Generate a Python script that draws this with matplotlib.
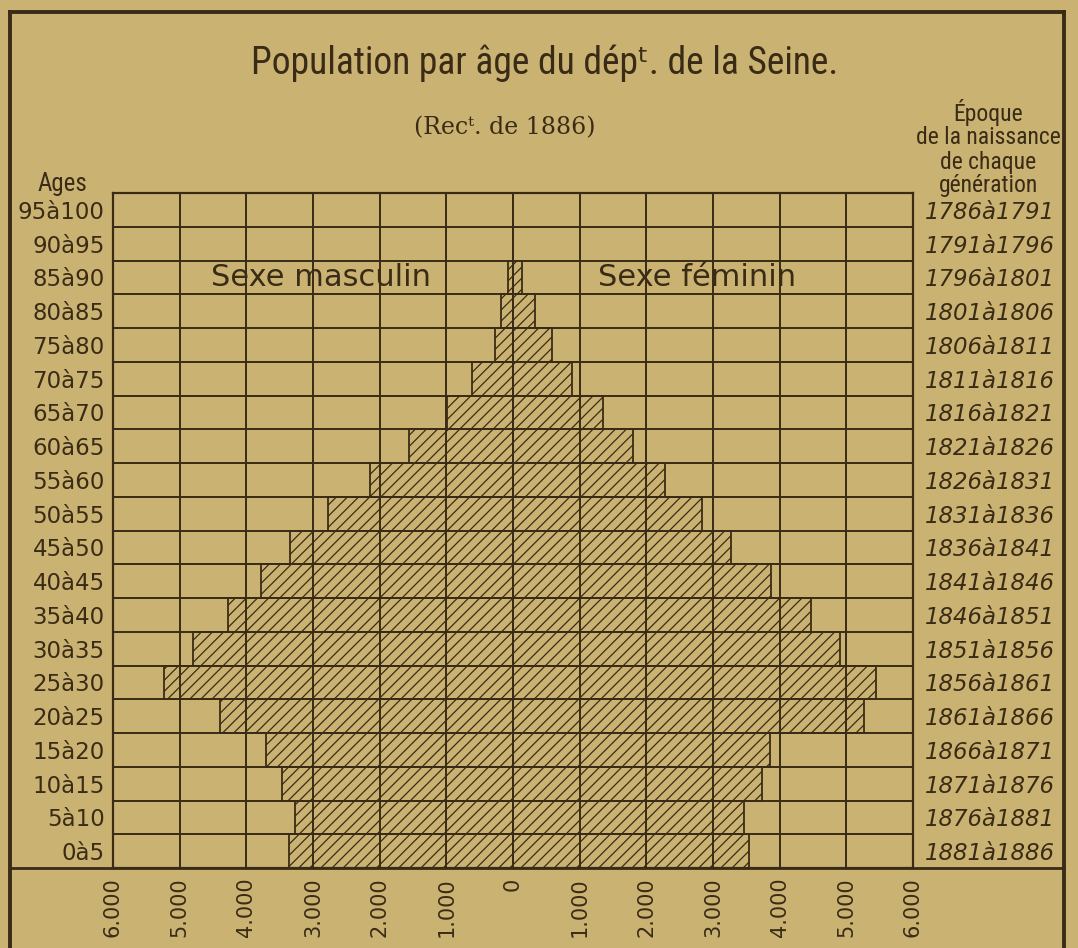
import numpy as np
import matplotlib
matplotlib.use("Agg")
import matplotlib.pyplot as plt
from matplotlib import font_manager
from matplotlib.lines import Line2D
from matplotlib.ticker import FuncFormatter

# pyramide des âges, département de la Seine, recensement de 1886
ages = ["0à5", "5à10", "10à15", "15à20", "20à25", "25à30", "30à35", "35à40",
        "40à45", "45à50", "50à55", "55à60", "60à65", "65à70", "70à75", "75à80",
        "80à85", "85à90", "90à95", "95à100"]
naissance = ["1881à1886", "1876à1881", "1871à1876", "1866à1871", "1861à1866",
             "1856à1861", "1851à1856", "1846à1851", "1841à1846", "1836à1841",
             "1831à1836", "1826à1831", "1821à1826", "1816à1821", "1811à1816",
             "1806à1811", "1801à1806", "1796à1801", "1791à1796", "1786à1791"]
hommes = [3360, 3270, 3460, 3700, 4400, 5240, 4800, 4270, 3780, 3350,
          2770, 2150, 1560, 990, 620, 265, 175, 70, 0, 0]
femmes = [3540, 3465, 3735, 3850, 5270, 5445, 4910, 4465, 3870, 3270,
          2835, 2280, 1800, 1350, 880, 585, 330, 135, 0, 0]
graduations = [-6000, -5000, -4000, -3000, -2000, -1000, 0,
               1000, 2000, 3000, 4000, 5000, 6000]

W, H = 1078, 948
PAPIER = "#CAB372"
ENCRE = "#3A2B16"

# police étroite pour les titres, si une est installée
noms = {f.name for f in font_manager.fontManager.ttflist}
condensees = [n for n in ["Liberation Sans Narrow", "Roboto Condensed",
                          "Open Sans Condensed", "DejaVu Sans Condensed"] if n in noms]
ETROIT = condensees[0] if condensees else "DejaVu Sans"
ETROIT_STRETCH = "normal" if condensees else "condensed"


def fx(x):
    return x / W


def fy(y):
    return 1 - y / H


def etroit(size):
    return dict(family=[ETROIT, "DejaVu Sans"], fontstretch=ETROIT_STRETCH, fontsize=size)


plt.rcParams["hatch.linewidth"] = 0.9
plt.rcParams["font.family"] = ["DejaVu Sans"]

fig = plt.figure(figsize=(W / 100, H / 100), dpi=100, facecolor=PAPIER)
ax = fig.add_axes([fx(113), fy(868), fx(913) - fx(113), fy(193) - fy(868)])
ax.set_facecolor(PAPIER)

y = np.arange(len(ages)) + 0.5
ax.barh(y, [-v for v in hommes], height=1, left=0, facecolor="none",
        edgecolor=ENCRE, hatch="///", linewidth=1.3, zorder=2)
ax.barh(y, femmes, height=1, left=0, facecolor="none",
        edgecolor=ENCRE, hatch="///", linewidth=1.3, zorder=2)

ax.set_xlim(-6000, 6000)
ax.set_ylim(0, len(ages))
ax.set_xticks(graduations)
ax.xaxis.set_major_formatter(FuncFormatter(
    lambda v, _: "0" if v == 0 else f"{abs(int(v)):,}".replace(",", ".")))
ax.set_yticks(y, ages)
ax.set_yticks(np.arange(len(ages) + 1), minor=True)
ax.grid(which="major", axis="x", color=ENCRE, linewidth=1.4, zorder=1)
ax.grid(which="minor", axis="y", color=ENCRE, linewidth=1.4, zorder=1)
ax.tick_params(axis="both", which="both", length=0, colors=ENCRE)
ax.tick_params(axis="x", pad=7, labelsize=15, labelrotation=90)
ax.tick_params(axis="y", pad=6, labelsize=16.5)
for s in ax.spines.values():
    s.set_color(ENCRE)
    s.set_linewidth(1.6)

# époque de naissance de chaque génération, à droite
sec = ax.twinx()
sec.set_ylim(0, len(ages))
sec.set_yticks(y, naissance)
sec.tick_params(axis="y", length=0, pad=55, labelsize=16.5, colors=ENCRE)
for lab in sec.get_yticklabels():
    lab.set_ha("center")
    lab.set_fontstyle("italic")
for s in sec.spines.values():
    s.set_visible(False)

ax.text(-2880, 17.5, "Sexe masculin", ha="center", va="center",
        fontsize=22, color=ENCRE, zorder=3)
ax.text(2760, 17.5, "Sexe féminin", ha="center", va="center",
        fontsize=22, color=ENCRE, zorder=3)

# titres et en-têtes
fig.text(fx(545), fy(63), "Population par âge du dépᵗ. de la Seine.",
         ha="center", va="center", color=ENCRE, **etroit(27))
fig.text(fx(505), fy(128), "(Recᵗ. de 1886)", ha="center", va="center",
         fontsize=17, color=ENCRE, family=["DejaVu Serif"])
fig.text(fx(62), fy(184), "Ages", ha="center", va="center",
         color=ENCRE, **etroit(18))
for txt, yy in [("Époque", 113), ("de la naissance", 138),
                ("de chaque", 162), ("génération", 186)]:
    fig.text(fx(988), fy(yy), txt, ha="center", va="center",
             color=ENCRE, **etroit(17))

# cadre extérieur
for xs, ys, lw in [([10, 10], [12, 948], 2.8), ([10, 1064], [12, 12], 2.8),
                   ([1064, 1064], [12, 948], 2.8), ([10, 1064], [868, 868], 2.0)]:
    fig.add_artist(Line2D([fx(v) for v in xs], [fy(v) for v in ys],
                          transform=fig.transFigure, color=ENCRE, linewidth=lw))

fig.savefig("out.png", dpi=100, facecolor=PAPIER)
